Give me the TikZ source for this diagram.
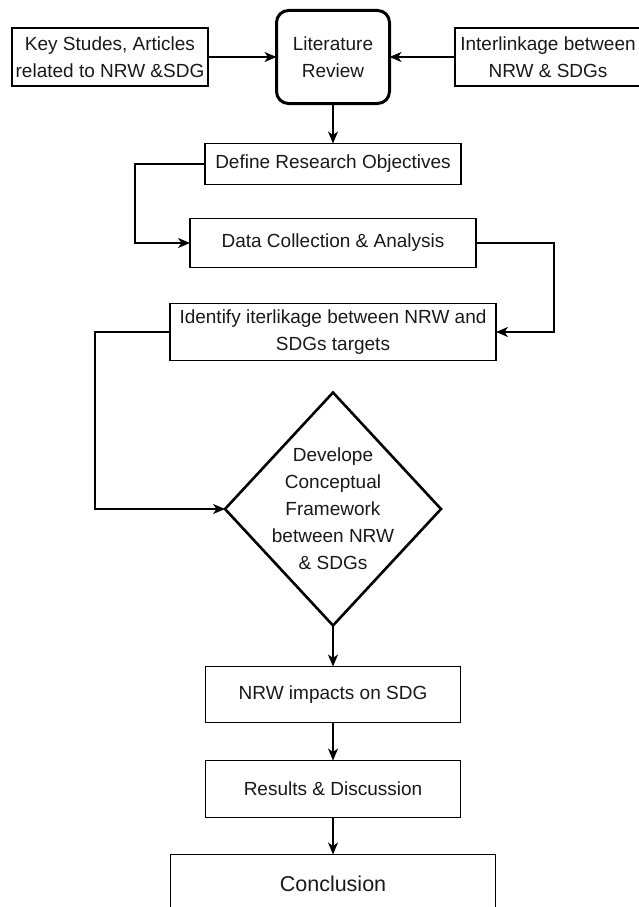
\documentclass[tikz,border=0pt]{standalone}
\usepackage{fontspec}
\setmainfont{Liberation Sans}
\usetikzlibrary{arrows.meta,shapes,positioning}
\tikzstyle{aF}=[every edge/.style={draw,line width=1.5pt,-{Stealth[length=12pt,width=10pt,inset=3.5pt]}}]
\tikzstyle{elbow}=[draw,line width=1.5pt,-{Stealth[length=12pt,width=10pt,inset=3.5pt]}]
\tikzstyle{Atxt}=[align=center,text=black!90,font=\fontsize{19}{27}\selectfont]
\tikzstyle{Abox}=[Atxt,draw,line width=1.6pt,inner sep=0,outer sep=0]
\tikzstyle{Alit}=[Abox,line width=3pt,rounded corners=12pt]
\tikzstyle{Adec}=[draw,diamond,line width=2.6pt,inner sep=0,outer sep=0]

\begin{document}
\begin{tikzpicture}[aF,x=1pt,y=-1pt]
  \clip (0,0) rectangle (639,907);
  % top row
  \node[Alit,minimum width=113pt,minimum height=93pt] (lit) at (333,57) {Literature\\Review};
  \node[Abox,minimum width=196pt,minimum height=58pt] (key) at (110,57) {Key Studes, Articles\\related to NRW \&SDG};
  \node[Abox,minimum width=186pt,minimum height=58pt] (inter) at (548,57) {Interlinkage between\\NRW \& SDGs};
  \path (key) edge (lit)
        (inter) edge (lit);
  % main column
  \node[Abox,minimum width=256pt,minimum height=41pt,below=40pt of lit] (obj) {Define Research Objectives};
  \node[Abox,minimum width=286pt,minimum height=49pt,below=34pt of obj] (data) {Data Collection \& Analysis};
  \node[Abox,minimum width=326pt,minimum height=57pt,below=36pt of data] (idf) {Identify iterlikage between NRW and\\SDGs targets};
  \node[Adec,minimum width=216pt,minimum height=233pt,below=32pt of idf,
        label={[Atxt]center:{Develope\\Conceptual\\Framework\\between NRW\\\& SDGs}}] (dev) {};
  \node[Abox,minimum width=255pt,minimum height=56pt,below=41pt of dev] (imp) {NRW impacts on SDG};
  \node[Abox,minimum width=255pt,minimum height=57pt,below=38pt of imp] (res) {Results \& Discussion};
  \node[Abox,minimum width=325pt,minimum height=58pt,below=37pt of res,font=\fontsize{21.5}{27}\selectfont] (conc) {Conclusion};
  \path (lit) edge (obj)
        (dev) edge (imp)
        (imp) edge (res)
        (res) edge (conc);
  \draw[elbow] (obj.west) -- ++(-70,0) |- (data.west);
  \draw[elbow] (data.east) -- ++(78,0) |- (idf.east);
  \draw[elbow] (idf.west) -- ++(-75,0) |- (dev.west);
\end{tikzpicture}
\end{document}
